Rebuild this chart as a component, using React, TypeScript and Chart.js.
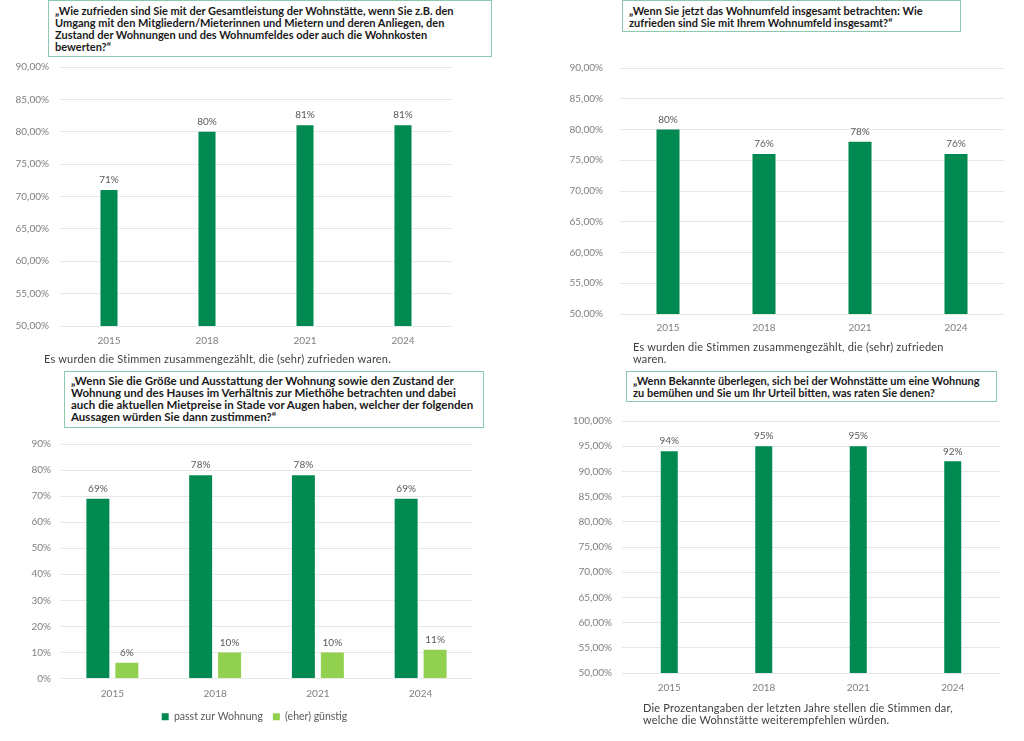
import { useEffect, useRef } from "react";
import { Chart, registerables } from "chart.js";

Chart.register(...registerables);

// Erhebungsjahre
const years = ["2015", "2018", "2021", "2024"];

// Werte in Prozent
const overallValues = [71, 80, 81, 81];
const areaValues = [80, 76, 78, 76];
const rentFitValues = [69, 78, 78, 69];
const rentCheapValues = [6, 10, 10, 11];
const recommendValues = [94, 95, 95, 92];

const rentSeries = ["passt zur Wohnung", "(eher) günstig"];

// Achsen: [min, max, Schritt]
const overallAxis = [50, 90, 5];
const areaAxis = [50, 90, 5];
const rentAxis = [0, 90, 10];
const recommendAxis = [50, 100, 5];

const DARK = "#008a52";
const LIGHT = "#92d050";
const FONT = "Lato, 'DejaVu Sans', sans-serif";

const decimalTick = (v: any) => `${v},00%`;
const plainTick = (v: any) => `${v}%`;

const valueLabels = {
    id: "valueLabels",
    afterDatasetsDraw(chart: any) {
        const { ctx } = chart;
        ctx.save();
        ctx.font = `10px ${FONT}`;
        ctx.fillStyle = "#595959";
        ctx.textAlign = "center";
        ctx.textBaseline = "middle";
        chart.data.datasets.forEach((ds: any, di: number) => {
            chart.getDatasetMeta(di).data.forEach((bar: any, i: number) => {
                ctx.fillText(`${ds.data[i]}%`, bar.x, bar.y - 10);
            });
        });
        ctx.restore();
    },
};

type Series = { label: string; data: number[]; color: string };

type BarPanelProps = {
    left: number;
    top: number;
    width: number;
    height: number;
    series: Series[];
    axis: number[];
    tick: (v: any) => string;
    yWidth: number;
    yPad: number;
    xHeight: number;
    xPad: number;
    padding: { top: number; right: number; bottom: number };
    barPercentage: number;
    categoryPercentage: number;
    legend?: boolean;
    rightSpace?: number; // leerer Platz rechts, damit die Legende mittig sitzt
};

const BarPanel = (p: BarPanelProps) => {
    const canvasRef = useRef<HTMLCanvasElement | null>(null);

    useEffect(() => {
        if (!canvasRef.current) return;
        const scales: any = {
            x: {
                grid: { display: false, drawTicks: false },
                border: { display: false },
                ticks: { color: "#7f7f7f", padding: p.xPad, font: { family: FONT, size: 10 } },
                afterFit: (scale: any) => { scale.height = p.xHeight; },
            },
            y: {
                min: p.axis[0],
                max: p.axis[1],
                grid: { color: "#e7e7e7", drawTicks: false },
                border: { display: false },
                ticks: {
                    stepSize: p.axis[2],
                    color: "#7f7f7f",
                    padding: p.yPad,
                    font: { family: FONT, size: 10 },
                    callback: p.tick,
                },
                afterFit: (scale: any) => { scale.width = p.yWidth; },
            },
        };
        if (p.rightSpace) {
            scales.spacer = {
                type: "linear",
                position: "right",
                grid: { display: false, drawTicks: false },
                border: { display: false },
                ticks: { display: false },
                afterFit: (scale: any) => { scale.width = p.rightSpace; },
            };
        }

        const chart = new Chart(canvasRef.current, {
            type: "bar",
            data: {
                labels: years,
                datasets: p.series.map(s => ({
                    label: s.label,
                    data: s.data,
                    backgroundColor: s.color,
                    borderWidth: 0,
                    barPercentage: p.barPercentage,
                    categoryPercentage: p.categoryPercentage,
                })),
            },
            options: {
                responsive: false,
                animation: false,
                layout: { padding: { left: 0, ...p.padding } },
                plugins: {
                    legend: {
                        display: !!p.legend,
                        position: "bottom",
                        labels: {
                            boxWidth: 7,
                            boxHeight: 7,
                            padding: 10,
                            color: "#595959",
                            font: { family: FONT, size: 10.5 },
                        },
                    },
                    tooltip: { enabled: false },
                },
                scales,
            } as any,
            plugins: [valueLabels],
        });
        return () => chart.destroy();
    }, []);

    return (
        <canvas
            ref={canvasRef}
            width={p.width}
            height={p.height}
            style={{ position: "absolute", left: p.left, top: p.top, width: p.width, height: p.height }}
        />
    );
};

const titleStyle = (left: number, top: number, width: number, height: number, padTop: number, size = 11): React.CSSProperties => ({
    position: "absolute",
    left,
    top,
    width,
    height,
    boxSizing: "border-box",
    border: "1.5px solid #8ccab0",
    background: "#fff",
    padding: `${padTop}px 0 0 6px`,
    font: `bold ${size}px ${FONT}`,
    lineHeight: "12px",
    color: "#1a1a1a",
    whiteSpace: "nowrap",
});

const noteStyle = (left: number, top: number): React.CSSProperties => ({
    position: "absolute",
    left,
    top,
    font: `11px ${FONT}`,
    letterSpacing: "0.2px",
    lineHeight: "12px",
    color: "#404040",
    whiteSpace: "nowrap",
});

export default function App() {
    return (
        <div style={{ position: "absolute", left: 0, top: 0, width: 1024, height: 741, background: "#fff", overflow: "hidden" }}>
            <BarPanel
                left={0} top={50} width={470} height={305}
                series={[{ label: "Gesamtleistung", data: overallValues, color: DARK }]}
                axis={overallAxis} tick={decimalTick}
                yWidth={60} yPad={11} xHeight={25} xPad={9}
                padding={{ top: 12, right: 18, bottom: 4 }}
                barPercentage={0.174} categoryPercentage={1}
            />
            <BarPanel
                left={540} top={45} width={484} height={300}
                series={[{ label: "Wohnumfeld", data: areaValues, color: DARK }]}
                axis={areaAxis} tick={decimalTick}
                yWidth={80} yPad={17} xHeight={25} xPad={8}
                padding={{ top: 12, right: 20, bottom: 6 }}
                barPercentage={0.24} categoryPercentage={1}
            />
            <BarPanel
                left={0} top={428} width={509} height={304}
                series={[
                    { label: rentSeries[0], data: rentFitValues, color: DARK },
                    { label: rentSeries[1], data: rentCheapValues, color: LIGHT },
                ]}
                axis={rentAxis} tick={plainTick}
                yWidth={61} yPad={10} xHeight={23} xPad={9}
                padding={{ top: 12.5, right: 0, bottom: 0 }}
                barPercentage={0.793} categoryPercentage={0.564}
                legend rightSpace={37}
            />
            <BarPanel
                left={540} top={405} width={484} height={300}
                series={[{ label: "Weiterempfehlung", data: recommendValues, color: DARK }]}
                axis={recommendAxis} tick={decimalTick}
                yWidth={82} yPad={10} xHeight={25} xPad={9}
                padding={{ top: 13, right: 24, bottom: 7 }}
                barPercentage={0.18} categoryPercentage={1}
            />

            <div style={titleStyle(48, 0, 444, 57, 3.5)}>
                „Wie zufrieden sind Sie mit der Gesamtleistung der Wohnstätte, wenn Sie z.B. den<br />
                Umgang mit den Mitgliedern/Mieterinnen und Mietern und deren Anliegen, den<br />
                Zustand der Wohnungen und des Wohnumfeldes oder auch die Wohnkosten<br />
                bewerten?“
            </div>
            <div style={titleStyle(622, 0, 339, 32, 3.5)}>
                „Wenn Sie jetzt das Wohnumfeld insgesamt betrachten: Wie<br />
                zufrieden sind Sie mit Ihrem Wohnumfeld insgesamt?“
            </div>
            <div style={titleStyle(64, 371, 420, 57, 2.5, 11.5)}>
                „Wenn Sie die Größe und Ausstattung der Wohnung sowie den Zustand der<br />
                Wohnung und des Hauses im Verhältnis zur Miethöhe betrachten und dabei<br />
                auch die aktuellen Mietpreise in Stade vor Augen haben, welcher der folgenden<br />
                Aussagen würden Sie dann zustimmen?“
            </div>
            <div style={titleStyle(626, 371, 371, 31, 2.5)}>
                „Wenn Bekannte überlegen, sich bei der Wohnstätte um eine Wohnung<br />
                zu bemühen und Sie um Ihr Urteil bitten, was raten Sie denen?
            </div>

            <div style={noteStyle(44, 353)}>
                Es wurden die Stimmen zusammengezählt, die (sehr) zufrieden waren.
            </div>
            <div style={{ ...noteStyle(633, 341), lineHeight: "11.5px" }}>
                Es wurden die Stimmen zusammengezählt, die (sehr) zufrieden<br />
                waren.
            </div>
            <div style={noteStyle(643, 702)}>
                Die Prozentangaben der letzten Jahre stellen die Stimmen dar,<br />
                welche die Wohnstätte weiterempfehlen würden.
            </div>
        </div>
    );
}
